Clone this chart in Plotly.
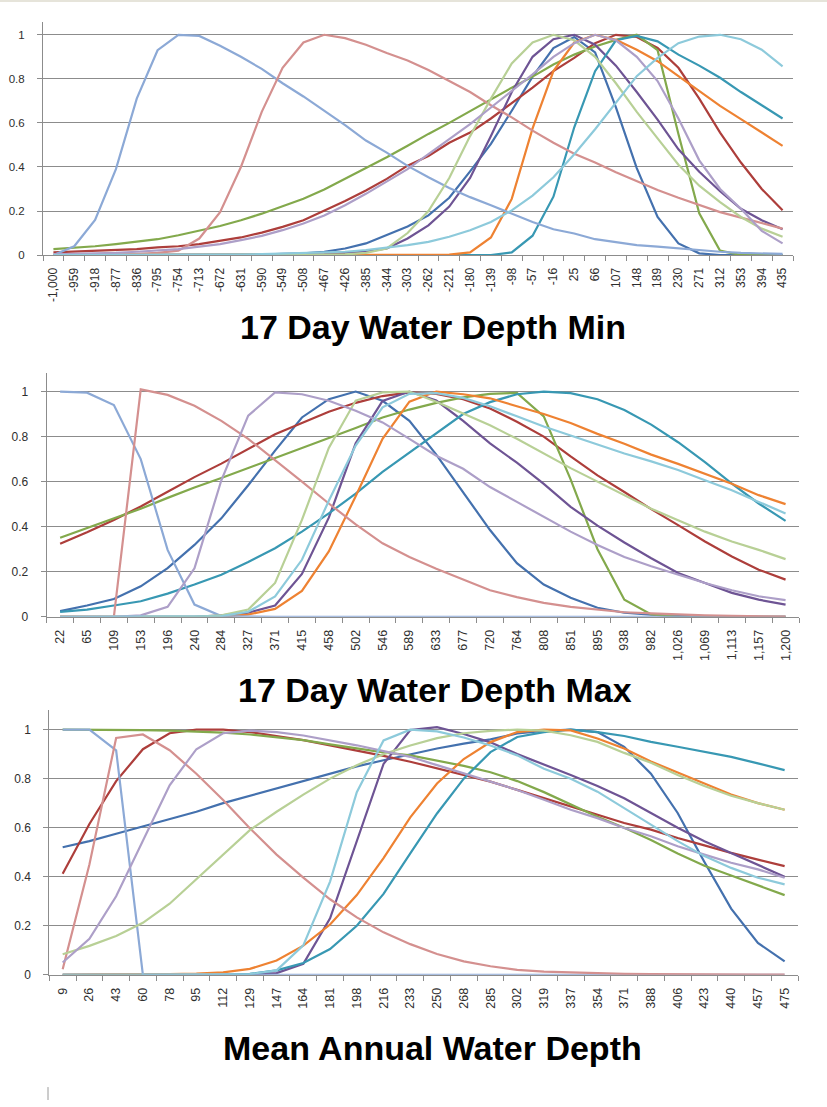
import plotly.graph_objects as go

# ---------------- categories ----------------
min_labels = ["-1,000", "-959", "-918", "-877", "-836", "-795", "-754", "-713", "-672", "-631",
              "-590", "-549", "-508", "-467", "-426", "-385", "-344", "-303", "-262", "-221",
              "-180", "-139", "-98", "-57", "-16", "25", "66", "107", "148", "189",
              "230", "271", "312", "353", "394", "435"]
max_labels = ["22", "65", "109", "153", "196", "240", "284", "327", "371", "415", "458", "502",
              "546", "589", "633", "677", "720", "764", "808", "851", "895", "938", "982",
              "1,026", "1,069", "1,113", "1,157", "1,200"]
mean_labels = ["9", "26", "43", "60", "78", "95", "112", "129", "147", "164", "181", "198",
               "216", "233", "250", "268", "285", "302", "319", "337", "354", "371", "388",
               "406", "423", "440", "457", "475"]

# ---------------- 17 Day Water Depth Min ----------------
min_db = [0, 0, 0, 0, 0, 0, 0, 0, 0, 0, 0.002, 0.005, 0.008, 0.015, 0.03, 0.053, 0.09, 0.13,
          0.18, 0.26, 0.38, 0.505, 0.655, 0.81, 0.94, 0.99, 0.92, 0.67, 0.395, 0.173, 0.053,
          0.008, 0, 0, 0, 0]
min_rd = [0.012, 0.015, 0.018, 0.022, 0.027, 0.035, 0.04, 0.05, 0.065, 0.08, 0.102, 0.128,
          0.158, 0.2, 0.245, 0.293, 0.346, 0.406, 0.45, 0.51, 0.556, 0.62, 0.69, 0.76, 0.835,
          0.895, 0.962, 1.0, 0.99, 0.94, 0.85, 0.71, 0.556, 0.42, 0.30, 0.203]
min_gr = [0.027, 0.033, 0.04, 0.05, 0.06, 0.072, 0.09, 0.11, 0.132, 0.158, 0.188, 0.222,
          0.256, 0.298, 0.346, 0.394, 0.444, 0.496, 0.55, 0.60, 0.654, 0.707, 0.76, 0.81,
          0.865, 0.91, 0.947, 0.977, 1.0, 0.93, 0.55, 0.19, 0.02, 0, 0, 0]
min_dp = [0, 0, 0, 0, 0, 0, 0, 0, 0, 0, 0, 0, 0.002, 0.004, 0.008, 0.015, 0.03, 0.075, 0.135,
          0.22, 0.35, 0.54, 0.74, 0.9, 0.98, 1.0, 0.955, 0.86, 0.74, 0.615, 0.48, 0.378, 0.29,
          0.21, 0.158, 0.117]
min_tl = [0] * 22 + [0.012, 0.088, 0.265, 0.58, 0.835, 0.975, 0.995, 0.97, 0.91, 0.86, 0.805,
                     0.74, 0.68, 0.62]
min_or = [0] * 19 + [0.002, 0.012, 0.08, 0.255, 0.575, 0.835, 0.965, 1.0, 0.977, 0.932, 0.88,
                     0.812, 0.744, 0.677, 0.617, 0.556, 0.496]
min_lb = [0.0, 0.04, 0.16, 0.39, 0.71, 0.93, 1.0, 0.995, 0.95, 0.90, 0.845, 0.78, 0.72, 0.655,
          0.59, 0.52, 0.465, 0.405, 0.353, 0.305, 0.263, 0.226, 0.188, 0.15, 0.117, 0.098,
          0.072, 0.057, 0.045, 0.038, 0.03, 0.023, 0.015, 0.01, 0.008, 0.005]
min_pk = [0, 0, 0, 0.002, 0.005, 0.01, 0.02, 0.075, 0.195, 0.40, 0.65, 0.85, 0.965, 1.0, 0.985,
          0.955, 0.917, 0.883, 0.84, 0.79, 0.74, 0.68, 0.625, 0.565, 0.51, 0.46, 0.42, 0.376,
          0.335, 0.295, 0.26, 0.226, 0.195, 0.17, 0.145, 0.12]
min_lg = [0, 0, 0, 0, 0, 0, 0, 0, 0, 0, 0, 0, 0, 0, 0.003, 0.01, 0.03, 0.1, 0.2, 0.35, 0.54,
          0.71, 0.87, 0.965, 1.0, 0.975, 0.9, 0.78, 0.65, 0.53, 0.41, 0.315, 0.24, 0.173, 0.12,
          0.083]
min_lp = [0.003, 0.005, 0.008, 0.01, 0.015, 0.02, 0.027, 0.038, 0.05, 0.068, 0.087, 0.113,
          0.143, 0.18, 0.226, 0.278, 0.334, 0.39, 0.458, 0.526, 0.594, 0.67, 0.744, 0.82, 0.90,
          0.962, 1.0, 0.975, 0.90, 0.79, 0.62, 0.43, 0.30, 0.21, 0.11, 0.053]
min_la = [0, 0, 0, 0, 0, 0, 0, 0, 0, 0.002, 0.004, 0.006, 0.008, 0.011, 0.015, 0.023, 0.033,
          0.045, 0.06, 0.083, 0.113, 0.15, 0.203, 0.27, 0.353, 0.458, 0.571, 0.692, 0.812,
          0.895, 0.962, 0.992, 1.0, 0.98, 0.932, 0.857]

# ---------------- 17 Day Water Depth Max ----------------
max_db = [0.025, 0.05, 0.079, 0.135, 0.216, 0.319, 0.437, 0.584, 0.738, 0.885, 0.966, 1.0,
          0.959, 0.87, 0.72, 0.55, 0.385, 0.238, 0.143, 0.084, 0.04, 0.018, 0.009, 0.004,
          0.002, 0, 0, 0]
max_rd = [0.324, 0.375, 0.43, 0.49, 0.555, 0.62, 0.68, 0.745, 0.81, 0.86, 0.91, 0.95, 0.98,
          0.996, 0.99, 0.966, 0.925, 0.866, 0.8, 0.712, 0.628, 0.554, 0.478, 0.407, 0.334,
          0.268, 0.209, 0.165]
max_gr = [0.351, 0.393, 0.437, 0.48, 0.528, 0.574, 0.616, 0.66, 0.704, 0.749, 0.794, 0.838,
          0.885, 0.92, 0.95, 0.974, 0.99, 0.994, 0.89, 0.61, 0.3, 0.076, 0.01, 0, 0, 0, 0, 0]
max_dp = [0, 0, 0, 0, 0, 0, 0.006, 0.018, 0.05, 0.19, 0.44, 0.77, 0.958, 1.0, 0.96, 0.87,
          0.77, 0.684, 0.59, 0.488, 0.405, 0.33, 0.26, 0.194, 0.15, 0.106, 0.076, 0.054]
max_tl = [0.022, 0.032, 0.05, 0.069, 0.103, 0.143, 0.187, 0.243, 0.304, 0.378, 0.459, 0.547,
          0.643, 0.73, 0.815, 0.9, 0.953, 0.988, 1.0, 0.993, 0.966, 0.918, 0.853, 0.775, 0.687,
          0.591, 0.503, 0.426]
max_or = [0, 0, 0, 0, 0, 0, 0, 0.01, 0.035, 0.115, 0.29, 0.535, 0.79, 0.955, 1.0, 0.988, 0.97,
          0.935, 0.9, 0.86, 0.812, 0.768, 0.72, 0.679, 0.635, 0.591, 0.54, 0.5]
max_lb = [1.0, 0.995, 0.94, 0.70, 0.297, 0.054, 0.003] + [0] * 21
max_pk = [0, 0, 0, 1.01, 0.985, 0.937, 0.87, 0.79, 0.697, 0.6, 0.503, 0.41, 0.326, 0.265,
          0.213, 0.165, 0.118, 0.087, 0.062, 0.044, 0.032, 0.02, 0.015, 0.01, 0.006, 0.004,
          0.002, 0.001]
max_lg = [0, 0, 0, 0, 0, 0, 0.006, 0.032, 0.15, 0.43, 0.75, 0.96, 0.996, 1.0, 0.955, 0.903,
          0.85, 0.79, 0.725, 0.66, 0.6, 0.54, 0.48, 0.429, 0.378, 0.334, 0.297, 0.256]
max_lp = [0, 0, 0, 0.006, 0.044, 0.215, 0.606, 0.893, 0.996, 0.988, 0.959, 0.915, 0.863, 0.79,
          0.715, 0.657, 0.576, 0.51, 0.444, 0.378, 0.319, 0.265, 0.224, 0.187, 0.15, 0.118,
          0.091, 0.074]
max_la = [0, 0, 0, 0, 0, 0, 0.003, 0.022, 0.09, 0.253, 0.515, 0.76, 0.93, 0.99, 0.993, 0.972,
          0.935, 0.89, 0.845, 0.805, 0.765, 0.725, 0.69, 0.652, 0.606, 0.562, 0.51, 0.459]

# ---------------- Mean Annual Water Depth ----------------
mean_db = [0.52, 0.545, 0.575, 0.605, 0.635, 0.665, 0.7, 0.73, 0.76, 0.79, 0.82, 0.85, 0.875,
           0.9, 0.923, 0.943, 0.96, 0.984, 0.995, 1.0, 0.99, 0.93, 0.82, 0.66, 0.46, 0.27,
           0.13, 0.055]
mean_rd = [0.412, 0.615, 0.79, 0.92, 0.985, 1.0, 1.0, 0.99, 0.974, 0.957, 0.936, 0.916, 0.893,
           0.869, 0.842, 0.815, 0.788, 0.754, 0.72, 0.685, 0.653, 0.619, 0.592, 0.558, 0.528,
           0.497, 0.47, 0.443]
mean_gr = [1.0, 1.0, 0.999, 0.998, 0.996, 0.993, 0.988, 0.98, 0.97, 0.957, 0.94, 0.923, 0.907,
           0.895, 0.875, 0.852, 0.826, 0.79, 0.745, 0.695, 0.645, 0.6, 0.55, 0.495, 0.445,
           0.405, 0.365, 0.325]
mean_dp = [0, 0, 0, 0, 0, 0, 0, 0.002, 0.007, 0.045, 0.23, 0.545, 0.86, 0.998, 1.01, 0.982,
           0.948, 0.9, 0.858, 0.815, 0.77, 0.72, 0.66, 0.6, 0.545, 0.497, 0.447, 0.4]
mean_tl = [0, 0, 0, 0, 0, 0, 0, 0.004, 0.018, 0.048, 0.105, 0.2, 0.33, 0.495, 0.658, 0.8,
           0.908, 0.97, 0.99, 1.0, 0.99, 0.974, 0.95, 0.93, 0.909, 0.889, 0.862, 0.835]
mean_or = [0, 0, 0, 0, 0.003, 0.005, 0.01, 0.024, 0.058, 0.119, 0.205, 0.325, 0.476, 0.642,
           0.78, 0.88, 0.949, 0.99, 1.0, 0.997, 0.964, 0.923, 0.87, 0.825, 0.78, 0.735, 0.7,
           0.673]
mean_lb = [1.0, 1.0, 0.915] + [0] * 25
mean_pk = [0.023, 0.45, 0.966, 0.98, 0.916, 0.82, 0.713, 0.598, 0.49, 0.396, 0.308, 0.234,
           0.173, 0.125, 0.085, 0.055, 0.035, 0.02, 0.013, 0.009, 0.006, 0.004, 0.003, 0.002,
           0.001, 0.001, 0.001, 0.001]
mean_lg = [0.084, 0.118, 0.158, 0.212, 0.29, 0.39, 0.49, 0.59, 0.665, 0.735, 0.8, 0.855, 0.9,
           0.935, 0.965, 0.985, 0.995, 1.0, 0.996, 0.977, 0.95, 0.905, 0.865, 0.815, 0.77,
           0.73, 0.7, 0.673]
mean_lp = [0.05, 0.147, 0.32, 0.55, 0.773, 0.92, 0.985, 0.996, 0.99, 0.976, 0.957, 0.936,
           0.912, 0.889, 0.855, 0.822, 0.788, 0.754, 0.714, 0.673, 0.639, 0.599, 0.565, 0.524,
           0.49, 0.457, 0.43, 0.396]
mean_la = [0, 0, 0, 0, 0, 0, 0, 0.003, 0.018, 0.12, 0.38, 0.745, 0.956, 1.0, 0.993, 0.968,
           0.935, 0.895, 0.84, 0.8, 0.747, 0.68, 0.612, 0.545, 0.484, 0.436, 0.396, 0.369]

series_colors = ["#4471AE", "#AD3E3B", "#83A94C", "#6E5494", "#3898B3", "#EE8232",
                 "#8CA9D6", "#D4908F", "#B8D096", "#AD9FC8", "#8DCADB"]

charts = [
    (min_labels, [min_db, min_rd, min_gr, min_dp, min_tl, min_or,
                  min_lb, min_pk, min_lg, min_lp, min_la], "17 Day Water Depth Min"),
    (max_labels, [max_db, max_rd, max_gr, max_dp, max_tl, max_or,
                  max_lb, max_pk, max_lg, max_lp, max_la], "17 Day Water Depth Max"),
    (mean_labels, [mean_db, mean_rd, mean_gr, mean_dp, mean_tl, mean_or,
                   mean_lb, mean_pk, mean_lg, mean_lp, mean_la], "Mean Annual Water Depth"),
]

W, H = 827, 1107
# plot areas in pixels: (left, right, top, bottom(zero), ymax)
boxes = [(43, 793, 21.7, 256.7, 1.06),
         (46.7, 799, 375, 620.7, 1.084),
         (49.3, 798, 715, 981, 1.078)]
title_pos = [(432.5, 329), (435, 694), (432.5, 1055)]

GRID = "#8C8C8C"
fig = go.Figure()
layout = dict(width=W, height=H, margin=dict(l=0, r=0, t=0, b=0),
              paper_bgcolor="white", plot_bgcolor="white", showlegend=False,
              annotations=[], shapes=[])

for k, (labels, series, title) in enumerate(charts):
    sfx = "" if k == 0 else str(k + 1)
    for vals, col in zip(series, series_colors):
        fig.add_trace(go.Scatter(x=labels, y=vals, mode="lines",
                                 line=dict(color=col, width=2.2),
                                 xaxis="x" + sfx, yaxis="y" + sfx, hoverinfo="skip"))
    l, r, t, b, ymax = boxes[k]
    xlab = 12 if k == 0 else 12.5
    ylab = 11.5 if k == 0 else 12
    layout["xaxis" + sfx] = dict(
        domain=[l / W, r / W], anchor="y" + sfx, type="category",
        range=[-0.5, len(labels) - 0.5], showgrid=False, zeroline=False,
        showline=True, linecolor=GRID, linewidth=1,
        ticks="outside", tickson="boundaries", ticklen=5, tickcolor=GRID,
        ticklabelstandoff=7,
        tickangle=-90, tickfont=dict(family="Liberation Sans", size=xlab, color="#2e2e2e"),
        categoryorder="array", categoryarray=labels, fixedrange=True)
    layout["yaxis" + sfx] = dict(
        domain=[1 - b / H, 1 - t / H], anchor="x" + sfx, range=[0, ymax],
        tickvals=[0, 0.2, 0.4, 0.6, 0.8, 1.0], ticktext=["0", "0.2", "0.4", "0.6", "0.8", "1"],
        showgrid=True, gridcolor=GRID, gridwidth=1, zeroline=False,
        showline=True, linecolor=GRID, linewidth=1,
        ticks="outside", ticklen=5, tickcolor=GRID, ticklabelstandoff=10,
        tickfont=dict(family="Liberation Sans", size=ylab, color="#2e2e2e"),
        fixedrange=True)
    tx, ty = title_pos[k]
    layout["annotations"].append(dict(
        text="<b>" + title + "</b>", x=tx / W, y=1 - ty / H, xref="paper", yref="paper",
        xanchor="center", yanchor="middle", showarrow=False,
        font=dict(family="Liberation Sans", size=34, color="black")))

# thin frame line at the top and small mark at bottom-left of the page
layout["shapes"].append(dict(type="line", xref="paper", yref="paper", x0=0, x1=1,
                             y0=1 - 1 / H, y1=1 - 1 / H, line=dict(color="#E6E4DA", width=2)))
layout["shapes"].append(dict(type="line", xref="paper", yref="paper", x0=48 / W, x1=48 / W,
                             y0=0, y1=13 / H, line=dict(color="#9A9A9A", width=1)))

fig.update_layout(**layout)
fig.write_html("out.html")
